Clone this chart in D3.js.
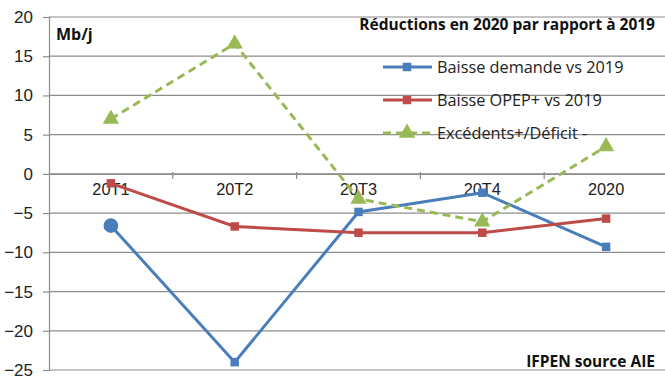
<!DOCTYPE html>
<html>
<head>
<meta charset="utf-8">
<script src="https://cdn.jsdelivr.net/npm/d3@7"></script>
<style>
  html, body { margin: 0; padding: 0; background: #fff; }
  svg { display: block; font-family: "Open Sans", "Liberation Sans", sans-serif; }
</style>
</head>
<body>
<svg id="chart" width="665" height="379"></svg>
<script>
// Quarterly oil balance figures (Mb/j)
const categories = ["20T1", "20T2", "20T3", "20T4", "2020"];
const demandDrop = [-6.6, -24.0, -4.85, -2.4, -9.3];
const opecDrop = [-1.2, -6.7, -7.5, -7.5, -5.7];
const surplusDeficit = [7.0, 16.6, -3.2, -6.1, 3.5];
const yTicks = [20, 15, 10, 5, 0, -5, -10, -15, -20, -25];

const seriesNames = ["Baisse demande vs 2019", "Baisse OPEP+ vs 2019", "Excédents+/Déficit -"];
const colors = ["#4a7ebb", "#be4b48", "#98b954"];

const svg = d3.select("#chart");
const plot = { left: 49, right: 668, top: 17, bottom: 370 };

const x = d3.scaleBand().domain(categories).range([plot.left, plot.right]);
const y = d3.scaleLinear().domain([-25, 20]).range([plot.bottom, plot.top]);

// horizontal gridlines
svg.append("g")
  .selectAll("line")
  .data(yTicks)
  .join("line")
  .attr("x1", plot.left).attr("x2", plot.right)
  .attr("y1", d => y(d)).attr("y2", d => y(d))
  .attr("stroke", "#8c8c8c").attr("stroke-width", 1.2);

// value axis
const yAxis = svg.append("g")
  .attr("transform", `translate(${plot.left},0)`)
  .call(d3.axisLeft(y).tickValues(yTicks).tickSize(6).tickPadding(10));
yAxis.select(".domain").attr("stroke", "#8c8c8c").attr("stroke-width", 1.2);
yAxis.selectAll(".tick line").attr("stroke", "#8c8c8c").attr("stroke-width", 1.2);
yAxis.selectAll("text").attr("font-size", 17).attr("fill", "#222").attr("font-family", null);

// category axis on the zero line
const xAxis = svg.append("g")
  .attr("transform", `translate(0,${y(0)})`)
  .call(d3.axisBottom(x).tickSize(0).tickPadding(10));
xAxis.select(".domain").attr("stroke", "#8c8c8c").attr("stroke-width", 1.2);
xAxis.selectAll("text").attr("font-size", 16.3).attr("fill", "#222").attr("font-family", null);

// category separator ticks
svg.append("g")
  .selectAll("line")
  .data(categories.slice(1))
  .join("line")
  .attr("x1", d => x(d)).attr("x2", d => x(d))
  .attr("y1", y(0) - 2).attr("y2", y(0) + 5)
  .attr("stroke", "#8c8c8c").attr("stroke-width", 1.2);

const cx = c => x(c) + x.bandwidth() / 2;
const line = d3.line().x((d, i) => cx(categories[i])).y(d => y(d));

const series = [demandDrop, opecDrop, surplusDeficit];
series.forEach((vals, s) => {
  svg.append("path")
    .datum(vals)
    .attr("d", line)
    .attr("fill", "none")
    .attr("stroke", colors[s])
    .attr("stroke-width", 3)
    .attr("stroke-dasharray", s === 2 ? "8,5" : null);
});

const square = d3.symbol().type(d3.symbolSquare).size(72);
const triangle = d3.symbol().type(d3.symbolTriangle).size(115);

// demand markers: first point highlighted as a circle
svg.append("g").selectAll("path")
  .data(demandDrop)
  .join("path")
  .attr("transform", (d, i) => `translate(${cx(categories[i])},${y(d)})`)
  .attr("d", (d, i) => i === 0 ? d3.symbol().type(d3.symbolCircle).size(170)() : square())
  .attr("fill", colors[0]);

svg.append("g").selectAll("path")
  .data(opecDrop)
  .join("path")
  .attr("transform", (d, i) => `translate(${cx(categories[i])},${y(d)})`)
  .attr("d", square())
  .attr("fill", colors[1]);

svg.append("g").selectAll("path")
  .data(surplusDeficit)
  .join("path")
  .attr("transform", (d, i) => `translate(${cx(categories[i])},${y(d)})`)
  .attr("d", triangle())
  .attr("fill", colors[2]);

// unit label
svg.append("text")
  .attr("x", 56).attr("y", 40)
  .attr("font-size", 16).attr("font-weight", "bold").attr("fill", "#111")
  .text("Mb/j");

// title
svg.append("text")
  .attr("x", 655).attr("y", 30)
  .attr("text-anchor", "end")
  .attr("font-size", 15.5).attr("font-weight", "bold").attr("fill", "#111")
  .text("Réductions en 2020 par rapport à 2019");

// legend
const legend = svg.append("g");
const legendY = [67, 100, 133];
seriesNames.forEach((name, s) => {
  const g = legend.append("g").attr("transform", `translate(0,${legendY[s]})`);
  g.append("line")
    .attr("x1", 383).attr("x2", 432)
    .attr("stroke", colors[s]).attr("stroke-width", 3)
    .attr("stroke-dasharray", s === 2 ? "8,5" : null);
  g.append("path")
    .attr("transform", "translate(407,0)")
    .attr("d", s === 2 ? triangle() : square())
    .attr("fill", colors[s]);
  g.append("text")
    .attr("x", 437).attr("y", 0).attr("dy", "0.35em")
    .attr("font-size", 16.3).attr("fill", "#222")
    .text(name);
});

// source note
svg.append("text")
  .attr("x", 655).attr("y", 367)
  .attr("text-anchor", "end")
  .attr("font-size", 15.5).attr("font-weight", "bold").attr("fill", "#111")
  .text("IFPEN source AIE");
</script>
</body>
</html>
